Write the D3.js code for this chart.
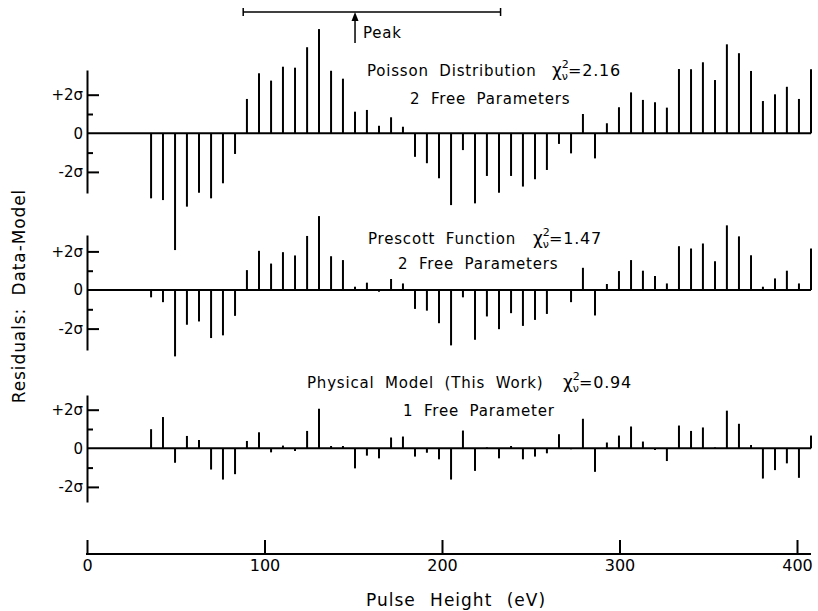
<!DOCTYPE html>
<head>
    <meta http-equiv="Content-Type" content="text/html; charset=UTF-8">
    <title>Residuals: Data-Model</title>
    <style type="text/css">
        html, body {
            margin: 0;
            padding: 0;
            background: #fff;
        }

        svg text {
            font-family: "DejaVu Sans", sans-serif;
            fill: #000;
        }
    </style>
</head>
<body>
    <svg id="chart" width="818" height="611"></svg>
    <script src="https://d3js.org/d3.v7.min.js"></script>
    <script>
        // pulse height of each channel (eV)
        var pulseHeight = [36.1, 42.8, 49.6, 56.3, 63.1, 69.9, 76.6, 83.4, 90.1, 96.9,
            103.7, 110.4, 117.2, 124.0, 130.7, 137.5, 144.2, 151.0, 157.7, 164.5,
            171.3, 178.0, 184.8, 191.5, 198.3, 205.1, 211.8, 218.6, 225.3, 232.1,
            238.9, 245.6, 252.4, 259.1, 265.9, 272.7, 279.4, 286.2, 292.9, 299.7,
            306.5, 313.2, 320.0, 326.7, 333.5, 340.3, 347.0, 353.8, 360.5, 367.3,
            374.1, 380.8, 387.6, 394.3, 401.1, 407.9];

        // residuals in units of sigma
        var poisson = [-3.37, -3.46, -6.05, -3.80, -3.08, -3.37, -2.59, -1.07,
            1.78, 3.11, 2.73, 3.45, 3.40, 4.46, 5.40, 3.24, 2.83, 1.12, 1.21, 0.39, 0.83, 0.34,
            -1.22, -1.55, -2.33, -3.72, -0.87, -3.63, -2.21, -3.08, -2.21, -2.76,
            -2.38, -1.90, -0.55, -1.04, 1.00, -1.30, 0.52, 1.35, 2.12, 1.73,
            1.61, 1.33, 3.33, 3.32, 3.68, 2.76, 4.61, 4.15, 3.23, 1.67,
            2.02, 2.41, 1.78, 3.32];
        var prescott = [-0.38, -0.63, -3.44, -1.80, -1.63, -2.49, -2.35, -1.34,
            1.03, 2.03, 1.37, 1.96, 1.79, 2.80, 3.83, 1.75, 1.55, 0.17, 0.38, -0.09, 0.57, 0.34,
            -0.98, -1.07, -1.72, -2.87, -0.38, -2.58, -1.37, -2.03, -1.20, -1.86,
            -1.55, -1.24, -0.05, -0.63, 1.15, -1.32, 0.31, 0.98, 1.55, 1.00,
            0.72, 0.34, 2.27, 2.15, 2.41, 1.49, 3.35, 2.78, 1.80, 0.17,
            0.60, 1.00, 0.34, 2.15];
        var physical = [0.99, 1.62, -0.75, 0.64, 0.43, -1.10, -1.62, -1.34,
            0.38, 0.83, -0.21, 0.14, -0.14, 0.90, 2.05, 0.12, 0.12, -1.04, -0.38, -0.52, 0.56, 0.61,
            -0.43, -0.23, -0.57, -1.62, 0.92, -1.17, 0.05, -0.52, 0.12, -0.57,
            -0.43, -0.26, 0.73, -0.05, 1.53, -1.22, 0.30, 0.66, 1.13, 0.35,
            -0.09, -0.66, 1.18, 0.90, 1.08, 0.05, 1.95, 1.27, 0.17, -1.57,
            -1.13, -0.78, -1.53, 0.66];

        var modelNames = ["Poisson Distribution", "Prescott Function", "Physical Model (This Work)"];
        var chiSquared = ["2.16", "1.47", "0.94"];
        var freeParams = ["2 Free Parameters", "2 Free Parameters", "1 Free Parameter"];

        var xTicks = [0, 100, 200, 300, 400];
        var sigmaTicks = [-2, 0, 2];
        var sigmaLabels = ["-2\u03c3", "0", "+2\u03c3"];
        var peakRange = [88, 233];
        var peakEnergy = 151;

        var svg = d3.select("#chart");
        var x = d3.scaleLinear().domain([0, 400]).range([87, 797]);
        var sigmaPx = 19.3;

        // panel layout: zero line, axis top/bottom, text positions
        var panels = [
            { data: poisson, zero: 133.3, top: 70, bottom: 193, t1: [367, 70], chi: 552, t2: [410, 98] },
            { data: prescott, zero: 290, top: 235, bottom: 350, t1: [368, 238], chi: 533, t2: [398, 263] },
            { data: physical, zero: 448.3, top: 395, bottom: 502, t1: [307, 382], chi: 563, t2: [403, 410] }
        ];

        var xEnd = x(d3.max(pulseHeight));

        panels.forEach(function (p, k) {
            var y = d3.scaleLinear()
                .domain([-(p.bottom - p.zero) / sigmaPx, (p.zero - p.top) / sigmaPx])
                .range([p.bottom, p.top]);
            var g = svg.append("g");

            // major ticks + axis line
            g.append("g")
                .attr("transform", "translate(" + x(0) + ",0)")
                .call(d3.axisRight(y).tickValues([-2, 2]).tickSize(12).tickSizeOuter(0).tickFormat(""))
                .call(function (a) {
                    a.selectAll("path, line").attr("stroke", "#000").attr("stroke-width", 2);
                });
            // minor ticks
            g.append("g")
                .attr("transform", "translate(" + x(0) + ",0)")
                .call(d3.axisRight(y).tickValues([-1, 1]).tickSize(6).tickFormat(""))
                .call(function (a) {
                    a.select(".domain").remove();
                    a.selectAll("line").attr("stroke", "#000").attr("stroke-width", 2);
                });
            // labels
            g.append("g")
                .attr("transform", "translate(" + x(0) + ",0)")
                .call(d3.axisLeft(y).tickValues(sigmaTicks).tickSize(0).tickPadding(4)
                    .tickFormat(function (d, i) { return sigmaLabels[i]; }))
                .call(function (a) {
                    a.select(".domain").remove();
                    a.selectAll("text").attr("font-size", 15).attr("font-family", "DejaVu Sans");
                });

            // zero line
            g.append("line")
                .attr("x1", x(0)).attr("x2", xEnd)
                .attr("y1", y(0)).attr("y2", y(0))
                .attr("stroke", "#000").attr("stroke-width", 2);

            // residual bars
            g.selectAll("line.bar").data(p.data).enter()
                .append("line")
                .attr("class", "bar")
                .attr("x1", function (d, i) { return x(pulseHeight[i]); })
                .attr("x2", function (d, i) { return x(pulseHeight[i]); })
                .attr("y1", y(0))
                .attr("y2", function (d) { return y(d); })
                .attr("stroke", "#000").attr("stroke-width", 2);

            // titles
            g.append("text")
                .attr("x", p.t1[0]).attr("y", p.t1[1] + 5.5)
                .attr("font-size", 15).attr("letter-spacing", 0.8).attr("word-spacing", 5)
                .text(modelNames[k]);
            var chi = g.append("text")
                .attr("x", p.chi).attr("y", p.t1[1] + 5.5)
                .attr("font-size", 16);
            chi.append("tspan").attr("font-size", 17).text("\u03c7");
            chi.append("tspan").attr("font-size", 11).attr("dy", -8).text("2");
            chi.append("tspan").attr("font-size", 11).attr("dx", -7).attr("dy", 12).text("\u03bd");
            chi.append("tspan").attr("dy", -4).attr("letter-spacing", 0.8).text("=" + chiSquared[k]);

            g.append("text")
                .attr("x", p.t2[0]).attr("y", p.t2[1] + 5.5)
                .attr("font-size", 15).attr("letter-spacing", 0.8).attr("word-spacing", 5)
                .text(freeParams[k]);
        });

        // x axis
        var xAxisY = 554;
        svg.append("g")
            .attr("transform", "translate(0," + xAxisY + ")")
            .call(d3.axisBottom(x).tickValues(xTicks).tickSize(-14).tickSizeOuter(0).tickPadding(6))
            .call(function (a) {
                a.select(".domain").remove();
                a.selectAll("line").attr("stroke", "#000").attr("stroke-width", 2);
                a.selectAll("text").attr("font-size", 16).attr("font-family", "DejaVu Sans").attr("fill", "#000");
            });
        svg.append("line")
            .attr("x1", x(0) - 1).attr("x2", xEnd)
            .attr("y1", xAxisY).attr("y2", xAxisY)
            .attr("stroke", "#000").attr("stroke-width", 2);

        svg.append("text")
            .attr("x", 456).attr("y", 606)
            .attr("text-anchor", "middle")
            .attr("font-size", 17).attr("letter-spacing", 1).attr("word-spacing", 8)
            .text("Pulse Height (eV)");

        svg.append("text")
            .attr("transform", "translate(25,296) rotate(-90)")
            .attr("text-anchor", "middle")
            .attr("font-size", 17).attr("letter-spacing", 0.9).attr("word-spacing", 6)
            .text("Residuals: Data-Model");

        // peak bracket and arrow
        var peakY = 12;
        svg.append("line")
            .attr("x1", x(peakRange[0])).attr("x2", x(peakRange[1]))
            .attr("y1", peakY).attr("y2", peakY)
            .attr("stroke", "#000").attr("stroke-width", 1.5);
        peakRange.forEach(function (v) {
            svg.append("line")
                .attr("x1", x(v)).attr("x2", x(v))
                .attr("y1", peakY - 4).attr("y2", peakY + 4)
                .attr("stroke", "#000").attr("stroke-width", 1.5);
        });
        svg.append("line")
            .attr("x1", x(peakEnergy)).attr("x2", x(peakEnergy))
            .attr("y1", peakY + 6).attr("y2", 43)
            .attr("stroke", "#000").attr("stroke-width", 1.5);
        svg.append("path")
            .attr("d", "M" + x(peakEnergy) + "," + peakY + "l-3.5,9h7z")
            .attr("fill", "#000");
        svg.append("text")
            .attr("x", x(peakEnergy) + 8).attr("y", 38)
            .attr("font-size", 15).attr("letter-spacing", 0.8)
            .text("Peak");
    </script>
</body>
</html>
